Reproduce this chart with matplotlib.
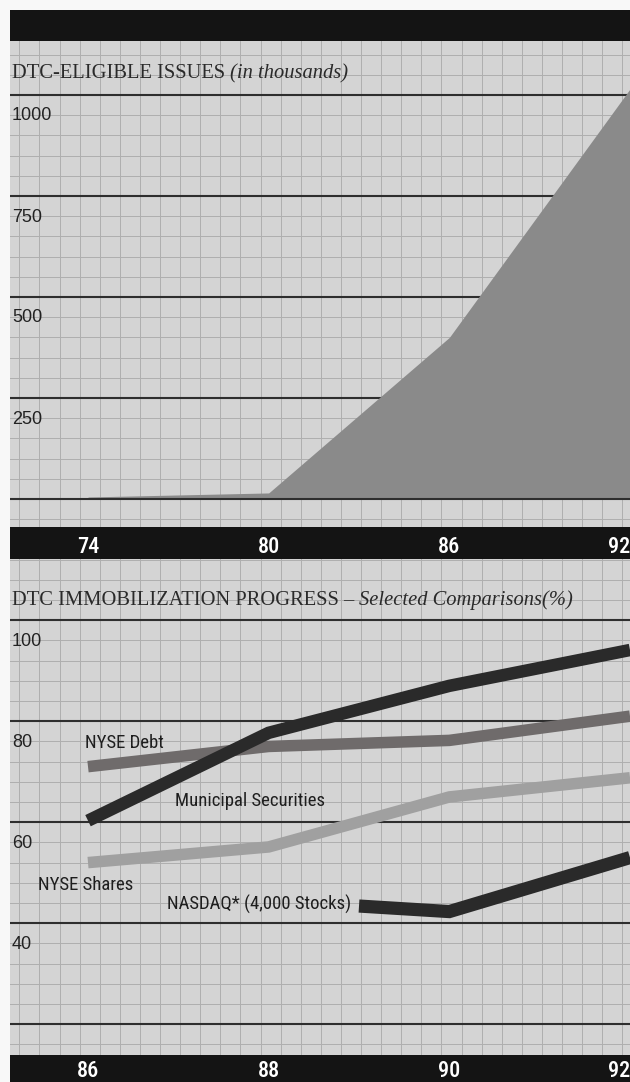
import matplotlib
matplotlib.use("Agg")
import matplotlib.pyplot as plt
import matplotlib.transforms as mtransforms
from matplotlib import font_manager
import numpy as np

W, H = 630, 1082

# --- panel 1: DTC-eligible issues (thousands)
issue_years = [74, 80, 86, 92]
issues_k = [5, 15, 400, 1015]
issue_levels = [0, 250, 500, 750, 1000]
issue_ticklabels = ["250", "500", "750", "1000"]
issue_xticks = [74, 80, 86, 92]

# --- panel 2: immobilization progress (%)
prog_years = [86, 88, 90, 92]
nyse_debt = [71.0, 75.0, 76.2, 81.0]
nyse_shares = [52.0, 55.1, 65.0, 68.8]
municipal = [60.3, 77.7, 87.0, 94.1]
nasdaq_years = [89, 90, 92]
nasdaq = [43.4, 42.3, 53.0]
prog_levels = [20, 40, 60, 80, 100]
prog_ticklabels = ["40", "60", "80", "100"]
prog_xticks = [86, 88, 90, 92]

series_names = ["NYSE Debt", "Municipal Securities", "NYSE Shares", "NASDAQ* (4,000 Stocks)"]
name_x = [85.967, 86.963, 85.446, 88.911]
name_y = [74.7, 63.2, 46.6, 42.6]
name_ha = ["left", "left", "left", "right"]

PAPER = "#d4d4d4"
GRID = "#aeaeae"
RULE = "#2e2e2e"
BAR = "#141414"
SERIF = ["Liberation Serif", "DejaVu Serif"]


def pick_narrow():
    # a condensed sans is closest to the original; fall back to Liberation Sans
    for fam in ["Liberation Sans Narrow", "Arial Narrow", "Roboto Condensed",
                "Open Sans Condensed", "DejaVu Sans Condensed"]:
        try:
            font_manager.findfont(font_manager.FontProperties(family=fam), fallback_to_default=False)
            return fam, True
        except ValueError:
            pass
    return "Liberation Sans", False


NARROW, HAVE_NARROW = pick_narrow()
SANS = [NARROW, "DejaVu Sans"]
LABEL_SIZE = 13.5 if HAVE_NARROW else 12.3
BAR_SIZE = 16 if HAVE_NARROW else 14.0
BAR_WEIGHT = "medium" if HAVE_NARROW else "bold"


def box(x0, y0, x1, y1):
    return [x0 / W, 1 - y1 / H, (x1 - x0) / W, (y1 - y0) / H]


def lim(va, pa, vb, pb, p_lo, p_hi):
    s = (vb - va) / (pb - pa)
    return va + (p_lo - pa) * s, va + (p_hi - pa) * s


fig = plt.figure(figsize=(W / 100, H / 100), dpi=100, facecolor="#f8f8f8")

# graph-paper background, pixel coordinates
paper = fig.add_axes(box(10, 10, 630, 1082))
paper.set_xlim(10, 630); paper.set_ylim(1082, 10)
paper.set_axis_off()
paper.add_patch(plt.Rectangle((10, 10), 620, 1072, color=PAPER, zorder=0))
for gx in np.arange(19.3, 630, 20.1):
    paper.axvline(gx, color=GRID, lw=0.7, zorder=1)
for gy in np.arange(499 - 20.2 * 23, 1082, 20.2):
    paper.axhline(gy, color=GRID, lw=0.7, zorder=1)

# black bars
top_bar = fig.add_axes(box(10, 10, 630, 41))
top_bar.set_facecolor(BAR); top_bar.set_xticks([]); top_bar.set_yticks([])
for s in top_bar.spines.values():
    s.set_visible(False)

# ---------------- panel 1
ax1 = fig.add_axes(box(10, 41, 630, 527))
ax1.set_xlim(*lim(74, 88, 92, 630, 10, 630))
ax1.set_ylim(*lim(0, 499, 1000, 95, 527, 41))
ax1.set_axis_off()
for v in issue_levels:
    ax1.axhline(v, color=RULE, lw=1.5, zorder=1 if v else 3)
ax1.fill_between(issue_years, 0, issues_k, color="#8a8a8a", lw=0, zorder=2)
lab_tr = mtransforms.offset_copy(mtransforms.blended_transform_factory(ax1.transAxes, ax1.transData),
                                 fig=fig, y=-25.5, units="dots")
for v, t in zip(issue_levels[1:], issue_ticklabels):
    ax1.text(2 / 620, v, t, transform=lab_tr, ha="left", va="baseline",
             fontsize=13, family=["Liberation Sans", "DejaVu Sans"], color="#222222")
t1 = fig.text(12 / W, 1 - 78 / H, "DTC-ELIGIBLE ISSUES ", ha="left", va="baseline",
              fontsize=14.8, family=SERIF, color="#2a2a2a")
fig.canvas.draw()
ax1.annotate("(in thousands)", xy=(1, 0), xycoords=t1, ha="left", va="bottom",
             fontsize=14.8, family=SERIF, style="italic", color="#2a2a2a")

bar1 = fig.add_axes(box(10, 527, 630, 559), sharex=ax1)
bar1.set_facecolor(BAR); bar1.set_yticks([]); bar1.tick_params(bottom=False, labelbottom=False)
for s in bar1.spines.values():
    s.set_visible(False)
for i, yr in enumerate(issue_xticks):
    bar1.text(yr, 0.19, str(yr), transform=bar1.get_xaxis_transform(),
              ha="right" if i == len(issue_xticks) - 1 else "center", va="baseline",
              color="white", fontsize=BAR_SIZE, family=SANS, weight=BAR_WEIGHT)

# ---------------- panel 2
ax2 = fig.add_axes(box(10, 559, 630, 1055))
ax2.set_xlim(*lim(86, 88, 92, 630, 10, 630))
ax2.set_ylim(*lim(20, 1024.2, 100, 620.2, 1055, 559))
ax2.set_axis_off()
for v in prog_levels:
    ax2.axhline(v, color=RULE, lw=1.5, zorder=1)
kw = dict(solid_capstyle="butt", solid_joinstyle="miter", zorder=2)
ax2.plot(prog_years, nyse_debt, color="#6f6b6b", lw=8.3, **kw)
ax2.plot(prog_years, nyse_shares, color="#a0a0a0", lw=8.3, **kw)
ax2.plot(prog_years, municipal, color="#2a2a2a", lw=9.0, **kw)
ax2.plot(nasdaq_years, nasdaq, color="#2a2a2a", lw=9.5, **kw)
for name, x, y, ha in zip(series_names, name_x, name_y, name_ha):
    ax2.text(x, y, name, ha=ha, va="baseline", fontsize=LABEL_SIZE, family=SANS,
             color="#1e1e1e", zorder=4)
lab_tr2 = mtransforms.offset_copy(mtransforms.blended_transform_factory(ax2.transAxes, ax2.transData),
                                  fig=fig, y=-25.5, units="dots")
for v, t in zip(prog_levels[1:], prog_ticklabels):
    ax2.text(2 / 620, v, t, transform=lab_tr2, ha="left", va="baseline",
             fontsize=13, family=["Liberation Sans", "DejaVu Sans"], color="#222222")
t2 = fig.text(12 / W, 1 - 605 / H, "DTC IMMOBILIZATION PROGRESS \u2013 ", ha="left", va="baseline",
              fontsize=14.8, family=SERIF, color="#2a2a2a")
fig.canvas.draw()
ax2.annotate("Selected Comparisons(%)", xy=(1, 0), xycoords=t2, ha="left", va="bottom",
             fontsize=14.8, family=SERIF, style="italic", color="#2a2a2a")

bar2 = fig.add_axes(box(10, 1055, 630, 1082), sharex=ax2)
bar2.set_facecolor(BAR); bar2.set_yticks([]); bar2.tick_params(bottom=False, labelbottom=False)
for s in bar2.spines.values():
    s.set_visible(False)
for i, yr in enumerate(prog_xticks):
    bar2.text(yr, 0.185, str(yr), transform=bar2.get_xaxis_transform(),
              ha="right" if i == len(prog_xticks) - 1 else "center", va="baseline",
              color="white", fontsize=BAR_SIZE, family=SANS, weight=BAR_WEIGHT)

fig.savefig("out.png", dpi=100, facecolor=fig.get_facecolor())
